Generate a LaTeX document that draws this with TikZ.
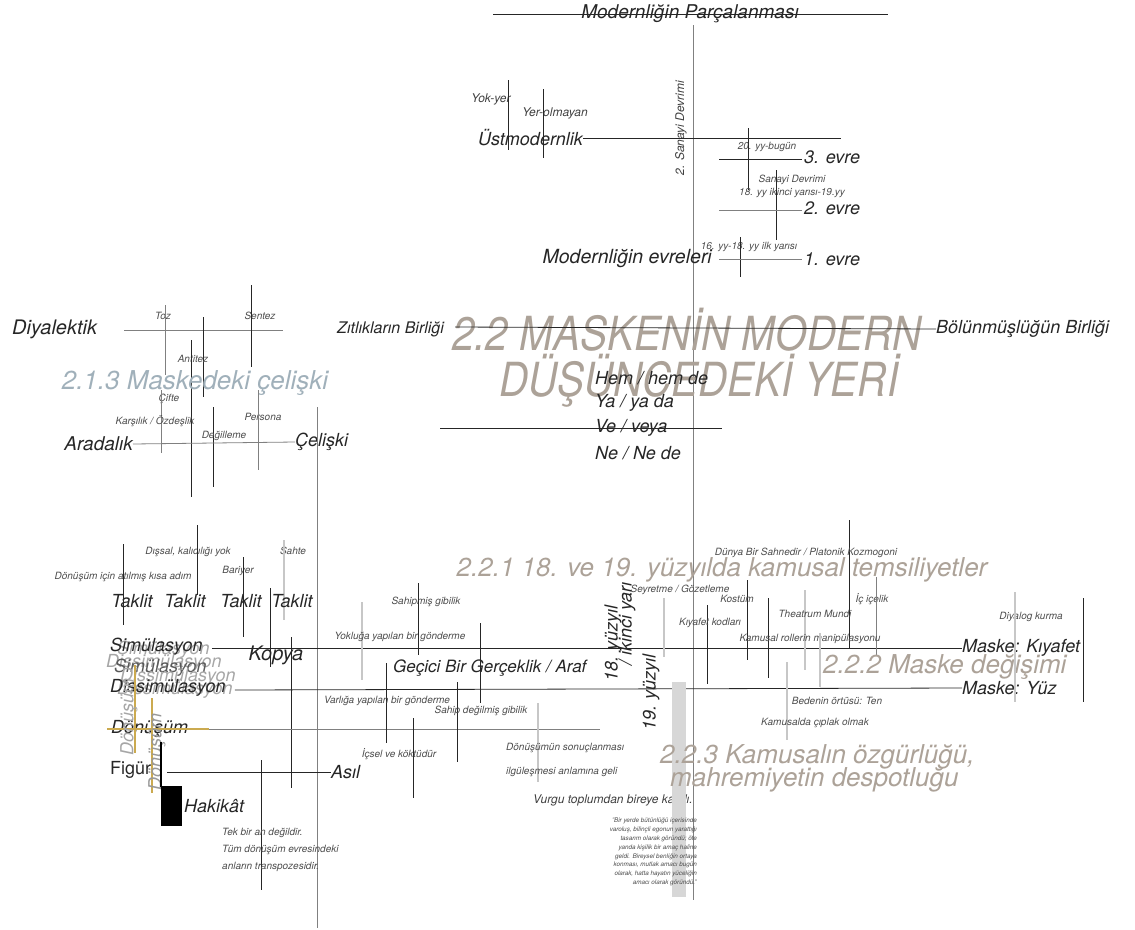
\documentclass[tikz,border=0pt]{standalone}
\usepackage{fontspec}
\setmainfont{TeX Gyre Heros}
\usepackage{graphicx}
\usetikzlibrary{positioning}
\definecolor{titlegray}{RGB}{172,162,152}
\definecolor{bluegray}{RGB}{160,176,186}
\definecolor{goldline}{RGB}{203,170,80}
\definecolor{barfill}{RGB}{215,215,215}
\newcommand\fsz[1]{\fontsize{#1}{#1}\selectfont}
\newcommand\narrow[1]{\scalebox{0.86}[1]{#1}}

\begin{document}
\begin{tikzpicture}[x=1pt, y=-1pt,
  lab/.style={inner sep=0pt, font=\itshape\fsz{18}, text=black!85},
  midlab/.style={inner sep=0pt, font=\itshape\fsz{16}, text=black!85},
  sml/.style={inner sep=0pt, font=\itshape\fsz{12}, text=black!75},
  note/.style={inner sep=0pt, font=\itshape\fsz{10}, text=black!70},
  ghost/.style={lab, text=black!35},
  sect/.style={inner sep=0pt, font=\itshape\fsz{26}, text=titlegray},
  maintitle/.style={inner sep=0pt, font=\itshape\fsz{47}, text=titlegray},
  ln/.style={draw=black!85, line width=0.8pt},
  gln/.style={draw=black!50, line width=0.8pt},
  lgln/.style={draw=black!22, line width=1.2pt},
  goldln/.style={draw=goldline, line width=2.6pt}
  ]
  \useasboundingbox (0,0) rectangle (1135,929);

  % top: modernligin parcalanmasi
  \draw[ln] (493,14) -- (888,14);
  \node[lab, font=\itshape\fsz{19}] (parc) at (690,14) {Modernliğin Parçalanması};
  \draw[gln] (693,25) -- (693,900);
  \node[sml, rotate=90] (sanayi) at (681,128) {2. Sanayi Devrimi};
  \node[sml] (yokyer) at (491,99) {Yok-yer};
  \draw[ln] (508,80) -- (508,150);
  \node[sml] (yerolm) at (555,113) {Yer-olmayan};
  \draw[ln] (543,89) -- (543,158);
  \node[lab, anchor=east] (ust) at (583,138) {Üstmodernlik};
  \draw[ln] (ust.east) -- (841,138);

  % evreler
  \node[note] (yy3) at (767,147) {20. yy-bugün};
  \draw[ln] (748,128) -- (748,190);
  \node[lab, anchor=west] (e3) at (804,157) {3. evre};
  \draw[ln] (e3.west) ++(-2,2) -- (719,159);
  \node[note] (sd) at (792,180) {Sanayi Devrimi};
  \node[note] (yy2) at (792,193) {18. yy ikinci yarısı-19.yy};
  \draw[ln] (776,170) -- (776,240);
  \node[lab, anchor=west] (e2) at (804,208) {2. evre};
  \draw[gln] (802,210) -- (719,210);
  \node[note] (yy1) at (749,247) {16. yy-18. yy ilk yarısı};
  \draw[ln] (740,237) -- (740,277);
  \node[lab, anchor=west] (e1) at (804,259) {1. evre};
  \node[lab, font=\itshape\fsz{19.5}, anchor=east] (evreleri) at (712,259) {Modernliğin evreleri};
  \draw[gln] (evreleri.east) ++(7,0) -- (802,259);

  % diyalektik
  \node[lab, font=\itshape\fsz{20}, anchor=west] (diyal) at (12,329) {Diyalektik};
  \draw[gln] (124,330) -- (283,330);
  \node[note] (toz) at (163,316) {Toz};
  \node[note] (sentez) at (260,316) {Sentez};
  \draw[gln] (165,305) -- (165,375);
  \draw[ln] (203,317) -- (203,397);
  \draw[ln] (251,285) -- (251,367);
  \node[note] (antitez) at (193,359) {Antitez};
  \draw[ln] (191,340) -- (191,497);
  \node[sect, text=bluegray] (mcel) at (195,383) {2.1.3 Maskedeki çelişki};
  \node[note] (cifte) at (169,399) {Çifte};
  \draw[gln] (161,390) -- (161,453);
  \node[note] (karsi) at (155,421) {Karşılık / Özdeşlik};
  \node[note] (persona) at (263,417) {Persona};
  \draw[ln] (213,407) -- (213,487);
  \draw[gln] (258,390) -- (258,470);
  \node[note] (degil) at (224,436) {Değilleme};
  \node[lab, font=\itshape\fsz{19}, anchor=east] (arad) at (133,444) {Aradalık};
  \node[lab, anchor=west] (celiski) at (295,442) {Çelişki};
  \draw[gln] (arad.east) -- (celiski.west);
  \draw[gln] (317,407) -- (317,928);

  % title
  \node[midlab, anchor=east] (zit) at (444,329) {Zıtlıkların Birliği};
  \node[maintitle, anchor=west] (titleA) at (452,330) {\narrow{2.2 MASKENİN MODERN}};
  \node[maintitle, anchor=west] (titleB) at (499,381) {\narrow{DÜŞÜNCEDEKİ YERİ}};
  \node[lab, anchor=west] (bolun) at (936,329) {Bölünmüşlüğün Birliği};
  \draw[ln] (455,327) -- (bolun.west);
  \node[lab, anchor=west] (hem) at (595,378) {Hem / hem de};
  \node[lab, anchor=west] (ya) at (595,403) {Ya / ya da};
  \node[lab, anchor=west] (ve) at (595,428) {Ve / veya};
  \node[lab, anchor=west] (ne) at (595,453) {Ne / Ne de};
  \draw[ln] (440,428) -- (722,428);

  % taklit
  \draw[ln] (123,544) -- (123,625);
  \node[note] (kisa) at (123,577) {Dönüşüm için atılmış kısa adım};
  \node[note] (dissal) at (188,552) {Dışsal, kalıcılığı yok};
  \draw[ln] (197,525) -- (197,595);
  \node[note] (bariyer) at (238,571) {Bariyer};
  \draw[ln] (243,557) -- (243,637);
  \node[note] (sahte) at (293,551) {Sahte};
  \draw[lgln] (284,540) -- (284,620);
  \foreach \x/\n in {132/1,185/2,241/3,292/4}
    \node[lab] (taklit\n) at (\x,601) {Taklit};
  \draw[ln] (270,588) -- (270,667);
  \draw[ln] (291,637) -- (291,788);

  % simulasyon
  \node[ghost, anchor=west] (simulg) at (117,650) {Simülasyon};
  \node[lab, anchor=west] (simul) at (110,647) {Simülasyon};
  \node[ghost, anchor=west] (dissg1) at (106,663) {Dissimülasyon};
  \node[lab, text=black!65, anchor=west] (simul2) at (114,668) {Simülasyon};
  \node[ghost, anchor=west] (dissg2) at (120,677) {Dissimülasyon};
  \node[ghost, anchor=west] (dissg) at (117,690) {Dissimülasyon};
  \node[lab, anchor=west] (dissim) at (110,688) {Dissimülasyon};
  \node[lab, font=\itshape\fsz{20}] (kopya) at (276,655) {Kopya};
  \node[lab, anchor=west] (kiyafet) at (962,648) {Maske: Kıyafet};
  \node[lab, anchor=west] (yuz) at (962,688) {Maske: Yüz};
  \draw[ln] (simulg.east) ++(2,-2) -- (kiyafet.west);
  \draw[ln] (dissg.east) ++(2,0) -- (yuz.west);

  % donusum
  \node[lab, anchor=west] (donusum) at (111,729) {Dönüşüm};
  \draw[goldln] (107,729) -- (209,729);
  \draw[goldln] (135,665) -- (135,753);
  \draw[goldln] (152,698) -- (152,793);
  \node[lab, text=black!35, rotate=90] (donr1) at (129,717) {Dönüşüm};
  \node[lab, text=black!40, rotate=90] (donr2) at (157,752) {Dönüşüm};
  \draw[gln] (209,729) -- (600,729);
  \draw[draw=black, line width=2.5pt] (161,742) -- (161,787);
  \fill[black] (161,786) rectangle (182,826);
  \node[lab, font=\fsz{18}, anchor=west] (figur) at (110,770) {Figür};
  \node[lab, anchor=west] (asil) at (331,772) {Asıl};
  \draw[ln] (167,772) -- (asil.west);
  \node[lab, anchor=west] (hakikat) at (184,806) {Hakikât};
  \draw[ln] (261,760) -- (261,890);
  \node[note, anchor=west] (tek1) at (222,833) {Tek bir an değildir.};
  \node[note, anchor=west] (tek2) at (222,850) {Tüm dönüşüm evresindeki};
  \node[note, anchor=west] (tek3) at (222,867) {anların transpozesidir.};

  % araf
  \node[note] (sahipmis) at (426,602) {Sahipmiş gibilik};
  \draw[ln] (418,583) -- (418,655);
  \draw[lgln] (362,602) -- (362,680);
  \node[note] (yokluga) at (400,637) {Yokluğa yapılan bir gönderme};
  \draw[ln] (480,623) -- (480,703);
  \draw[ln] (386,663) -- (386,743);
  \node[lab, font=\itshape\fsz{17}, anchor=west] (araf) at (393,668) {Geçici Bir Gerçeklik / Araf};
  \node[note] (varliga) at (387,701) {Varlığa yapılan bir gönderme};
  \draw[ln] (457,682) -- (457,762);
  \node[note] (sahipdegil) at (481,711) {Sahip değilmiş gibilik};
  \draw[lgln] (538,703) -- (538,782);
  \draw[ln] (413,718) -- (413,798);
  \node[note] (icsel) at (399,754) {İçsel ve köktüdür};
  \node[note, anchor=west] (sonuc1) at (506,748) {Dönüşümün sonuçlanması};
  \node[note, anchor=west] (sonuc2) at (506,772) {ilgüleşmesi anlamına geli};
  \node[sml, anchor=west] (vurgu) at (533,800) {Vurgu toplumdan bireye kaydı.};

  % 18. / 19. yuzyil
  \fill[barfill] (672,682) rectangle (686,897);
  \node[inner sep=0pt, anchor=north east, align=right, text=black!70,
    font=\itshape\fontsize{6.3}{8.8}\selectfont] (alinti) at (697,818)
    {"Bir yerde bütünlüğü içerisinde\\varoluş, bilinçli egonun yarattığı\\tasarım olarak göründü; öte\\yanda kişilik bir amaç haline\\geldi. Bireysel benliğin ortaya\\konması, mutlak amacı bugün\\olarak, hatta hayatın yüceliğin\\amacı olarak göründü."};
  \node[sect] (kamusal) at (722,570) {2.2.1 18. ve 19. yüzyılda kamusal temsiliyetler};
  \node[lab, rotate=90, anchor=west] (yy18) at (613,682) {18. yüzyıl};
  \node[lab, rotate=90, anchor=west] (ikinci) at (627,666) {/ ikinci yarı};
  \node[lab, rotate=90, anchor=west] (yy19) at (651,731) {19. yüzyıl};
  \draw[lgln] (664,598) -- (664,657);

  % maske degisimi
  \draw[ln] (849,520) -- (849,648);
  \node[note] (dunya) at (806,553) {Dünya Bir Sahnedir / Platonik Kozmogoni};
  \node[note] (seyret) at (680,590) {Seyretme / Gözetleme};
  \draw[ln] (747,580) -- (747,660);
  \node[note] (kostum) at (737,599) {Kostüm};
  \draw[ln] (768,598) -- (768,678);
  \draw[ln] (707,605) -- (707,684);
  \node[note] (kodlari) at (710,623) {Kıyafet kodları};
  \draw[lgln] (805,590) -- (805,670);
  \node[note] (theatrum) at (815,614) {Theatrum Mundi};
  \node[note] (icice) at (872,599) {İç içelik};
  \draw[gln] (876,577) -- (876,655);
  \node[note] (roller) at (810,639) {Kamusal rollerin manipülasyonu};
  \node[sect, anchor=west] (degisim) at (823,667) {2.2.2 Maske değişimi};
  \node[note] (diyalog) at (1031,617) {Diyalog kurma};
  \draw[lgln] (1015,592) -- (1015,702);
  \draw[ln] (1083,598) -- (1083,702);
  \draw[lgln] (787,662) -- (787,740);
  \draw[lgln] (820,633) -- (820,687);
  \node[note] (ten) at (837,701) {Bedenin örtüsü: Ten};
  \node[note] (ciplak) at (815,723) {Kamusalda çıplak olmak};
  \node[sect, anchor=west] (ozgur) at (660,757) {2.2.3 Kamusalın özgürlüğü,};
  \node[sect, anchor=west] (despot) at (670,780) {mahremiyetin despotluğu};
\end{tikzpicture}
\end{document}
